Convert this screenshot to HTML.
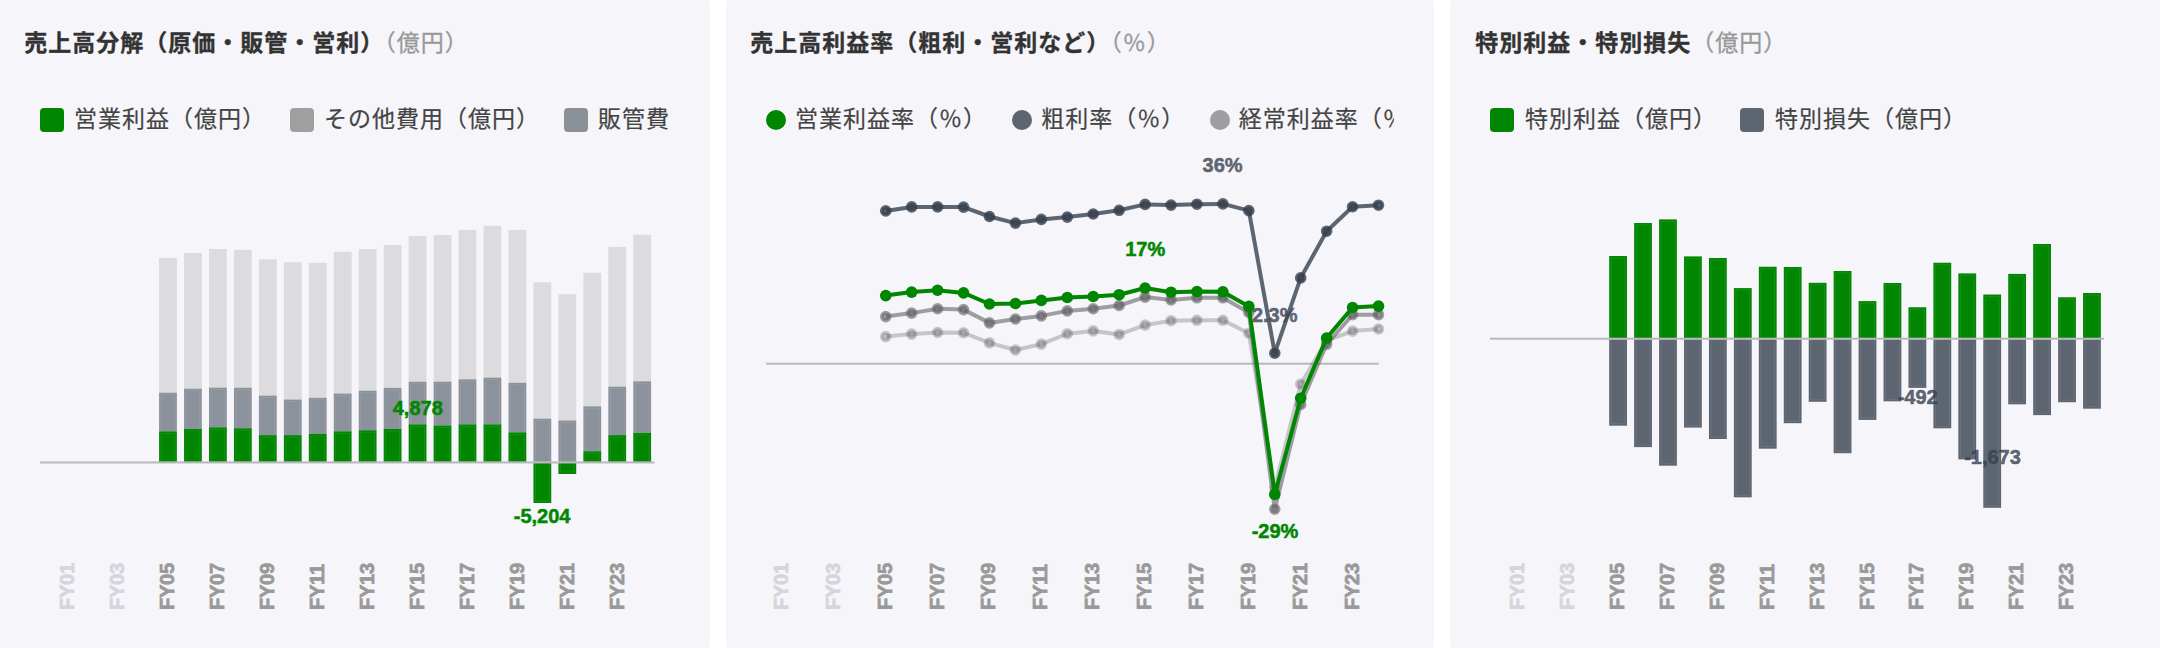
<!DOCTYPE html>
<html lang="ja">
<head>
<meta charset="utf-8">
<title>charts</title>
<style>
html,body{margin:0;padding:0;background:#fff;}
body{width:2160px;height:648px;position:relative;overflow:hidden;font-family:"Liberation Sans","Noto Sans CJK JP",sans-serif;}
.card{position:absolute;top:0;height:648px;width:710px;background:#f5f5fa;border-radius:4px;overflow:hidden;}
.title{position:absolute;left:24.3px;top:25px;transform:translateY(0.45px);font-size:23px;letter-spacing:1px;line-height:36px;font-weight:700;color:#333;white-space:nowrap;-webkit-text-stroke:0.35px #333;}
.title .u{font-weight:400;color:#999;-webkit-text-stroke:0.3px #999;}
.legend{position:absolute;left:40px;top:100px;width:630px;height:40px;overflow:hidden;white-space:nowrap;font-size:23px;letter-spacing:1px;line-height:38.6px;color:#444;-webkit-text-stroke:0.2px #444;}
.legend .it{position:absolute;top:0;height:40px;}
.legend .sw{display:inline-block;vertical-align:top;width:24px;height:24px;border-radius:4px;margin-top:8px;margin-right:10px;}
.legend .ci{display:inline-block;vertical-align:top;width:20px;height:20px;border-radius:50%;margin-top:10px;margin-right:9px;}
svg{position:absolute;left:0;top:0;}
.dl{font:700 20px "Liberation Sans",sans-serif;text-anchor:middle;stroke-width:0.5px;}
.xl{font:700 20px "Liberation Sans",sans-serif;text-anchor:start;stroke-width:0.7px;letter-spacing:-0.2px;}
</style>
</head>
<body>
<div class="card" style="left:0">
  <div class="title">売上高分解（原価・販管・営利）<span class="u">（億円）</span></div>
  <div class="legend"><span class="it" style="left:0"><span class="sw" style="background:#008600"></span>営業利益（億円）</span><span class="it" style="left:250px"><span class="sw" style="background:#9f9fa0"></span>その他費用（億円）</span><span class="it" style="left:524px"><span class="sw" style="background:#8a9199"></span>販管費（億円）</span></div>
</div>
<div class="card" style="left:726px;width:708px">
  <div class="title">売上高利益率（粗利・営利など）<span class="u">（％）</span></div>
  <div class="legend" style="width:628px"><span class="it" style="left:0"><span class="ci" style="background:#008600"></span>営業利益率（％）</span><span class="it" style="left:246.2px"><span class="ci" style="background:#5d6571"></span>粗利率（％）</span><span class="it" style="left:443.8px"><span class="ci" style="background:#9e9ea0"></span>経常利益率（％）</span><span class="it" style="left:691px"><span class="ci" style="background:#cfcfd2"></span>純利益率（％）</span></div>
</div>
<div class="card" style="left:1450px">
  <div class="title" style="left:25.3px">特別利益・特別損失<span class="u">（億円）</span></div>
  <div class="legend"><span class="it" style="left:0"><span class="sw" style="background:#008600;margin-right:11px"></span>特別利益（億円）</span><span class="it" style="left:250px"><span class="sw" style="background:#5d6571;margin-right:11px"></span>特別損失（億円）</span></div>
</div>
<svg width="2160" height="648" viewBox="0 0 2160 648">
<g><rect x="159.08" y="257.9" width="17.8" height="134.8" fill="#dcdcdf"/>
<rect x="159.08" y="392.7" width="17.8" height="38.6" fill="#8c929c"/>
<rect x="159.08" y="431.3" width="17.8" height="30.55" fill="#008600"/>
<path d="M161.08,461.45V433.3H174.88V461.45" fill="none" stroke="#fff" stroke-opacity="0.09" stroke-width="1"/>
<path d="M161.08,431.3V394.7H174.88V431.3" fill="none" stroke="#fff" stroke-opacity="0.09" stroke-width="1"/>
<rect x="184.04" y="252.96" width="17.8" height="135.74" fill="#dcdcdf"/>
<rect x="184.04" y="388.7" width="17.8" height="40.1" fill="#8c929c"/>
<rect x="184.04" y="428.8" width="17.8" height="33.05" fill="#008600"/>
<path d="M186.04,461.45V430.8H199.84V461.45" fill="none" stroke="#fff" stroke-opacity="0.09" stroke-width="1"/>
<path d="M186.04,428.8V390.7H199.84V428.8" fill="none" stroke="#fff" stroke-opacity="0.09" stroke-width="1"/>
<rect x="209" y="249" width="17.8" height="138.6" fill="#dcdcdf"/>
<rect x="209" y="387.6" width="17.8" height="39.65" fill="#8c929c"/>
<rect x="209" y="427.25" width="17.8" height="34.6" fill="#008600"/>
<path d="M211,461.45V429.25H224.8V461.45" fill="none" stroke="#fff" stroke-opacity="0.09" stroke-width="1"/>
<path d="M211,427.25V389.6H224.8V427.25" fill="none" stroke="#fff" stroke-opacity="0.09" stroke-width="1"/>
<rect x="233.96" y="249.9" width="17.8" height="137.8" fill="#dcdcdf"/>
<rect x="233.96" y="387.7" width="17.8" height="40.5" fill="#8c929c"/>
<rect x="233.96" y="428.2" width="17.8" height="33.65" fill="#008600"/>
<path d="M235.96,461.45V430.2H249.76V461.45" fill="none" stroke="#fff" stroke-opacity="0.09" stroke-width="1"/>
<path d="M235.96,428.2V389.7H249.76V428.2" fill="none" stroke="#fff" stroke-opacity="0.09" stroke-width="1"/>
<rect x="258.91" y="259.3" width="17.8" height="136.3" fill="#dcdcdf"/>
<rect x="258.91" y="395.6" width="17.8" height="39.5" fill="#8c929c"/>
<rect x="258.91" y="435.1" width="17.8" height="26.75" fill="#008600"/>
<path d="M260.91,461.45V437.1H274.71V461.45" fill="none" stroke="#fff" stroke-opacity="0.09" stroke-width="1"/>
<path d="M260.91,435.1V397.6H274.71V435.1" fill="none" stroke="#fff" stroke-opacity="0.09" stroke-width="1"/>
<rect x="283.87" y="262.2" width="17.8" height="137.3" fill="#dcdcdf"/>
<rect x="283.87" y="399.5" width="17.8" height="35.6" fill="#8c929c"/>
<rect x="283.87" y="435.1" width="17.8" height="26.75" fill="#008600"/>
<path d="M285.87,461.45V437.1H299.67V461.45" fill="none" stroke="#fff" stroke-opacity="0.09" stroke-width="1"/>
<path d="M285.87,435.1V401.5H299.67V435.1" fill="none" stroke="#fff" stroke-opacity="0.09" stroke-width="1"/>
<rect x="308.83" y="262.8" width="17.8" height="135" fill="#dcdcdf"/>
<rect x="308.83" y="397.8" width="17.8" height="36.2" fill="#8c929c"/>
<rect x="308.83" y="434" width="17.8" height="27.85" fill="#008600"/>
<path d="M310.83,461.45V436H324.63V461.45" fill="none" stroke="#fff" stroke-opacity="0.09" stroke-width="1"/>
<path d="M310.83,434V399.8H324.63V434" fill="none" stroke="#fff" stroke-opacity="0.09" stroke-width="1"/>
<rect x="333.79" y="251.85" width="17.8" height="141.65" fill="#dcdcdf"/>
<rect x="333.79" y="393.5" width="17.8" height="37.8" fill="#8c929c"/>
<rect x="333.79" y="431.3" width="17.8" height="30.55" fill="#008600"/>
<path d="M335.79,461.45V433.3H349.59V461.45" fill="none" stroke="#fff" stroke-opacity="0.09" stroke-width="1"/>
<path d="M335.79,431.3V395.5H349.59V431.3" fill="none" stroke="#fff" stroke-opacity="0.09" stroke-width="1"/>
<rect x="358.75" y="249" width="17.8" height="141.7" fill="#dcdcdf"/>
<rect x="358.75" y="390.7" width="17.8" height="39.5" fill="#8c929c"/>
<rect x="358.75" y="430.2" width="17.8" height="31.65" fill="#008600"/>
<path d="M360.75,461.45V432.2H374.55V461.45" fill="none" stroke="#fff" stroke-opacity="0.09" stroke-width="1"/>
<path d="M360.75,430.2V392.7H374.55V430.2" fill="none" stroke="#fff" stroke-opacity="0.09" stroke-width="1"/>
<rect x="383.7" y="245.06" width="17.8" height="142.84" fill="#dcdcdf"/>
<rect x="383.7" y="387.9" width="17.8" height="41.1" fill="#8c929c"/>
<rect x="383.7" y="429" width="17.8" height="32.85" fill="#008600"/>
<path d="M385.7,461.45V431H399.5V461.45" fill="none" stroke="#fff" stroke-opacity="0.09" stroke-width="1"/>
<path d="M385.7,429V389.9H399.5V429" fill="none" stroke="#fff" stroke-opacity="0.09" stroke-width="1"/>
<rect x="408.66" y="236.05" width="17.8" height="145.65" fill="#dcdcdf"/>
<rect x="408.66" y="381.7" width="17.8" height="42.6" fill="#8c929c"/>
<rect x="408.66" y="424.3" width="17.8" height="37.55" fill="#008600"/>
<path d="M410.66,461.45V426.3H424.46V461.45" fill="none" stroke="#fff" stroke-opacity="0.09" stroke-width="1"/>
<path d="M410.66,424.3V383.7H424.46V424.3" fill="none" stroke="#fff" stroke-opacity="0.09" stroke-width="1"/>
<rect x="433.62" y="235.06" width="17.8" height="146.64" fill="#dcdcdf"/>
<rect x="433.62" y="381.7" width="17.8" height="43.7" fill="#8c929c"/>
<rect x="433.62" y="425.4" width="17.8" height="36.45" fill="#008600"/>
<path d="M435.62,461.45V427.4H449.42V461.45" fill="none" stroke="#fff" stroke-opacity="0.09" stroke-width="1"/>
<path d="M435.62,425.4V383.7H449.42V425.4" fill="none" stroke="#fff" stroke-opacity="0.09" stroke-width="1"/>
<rect x="458.58" y="229.9" width="17.8" height="149.4" fill="#dcdcdf"/>
<rect x="458.58" y="379.3" width="17.8" height="45" fill="#8c929c"/>
<rect x="458.58" y="424.3" width="17.8" height="37.55" fill="#008600"/>
<path d="M460.58,461.45V426.3H474.38V461.45" fill="none" stroke="#fff" stroke-opacity="0.09" stroke-width="1"/>
<path d="M460.58,424.3V381.3H474.38V424.3" fill="none" stroke="#fff" stroke-opacity="0.09" stroke-width="1"/>
<rect x="483.54" y="225.8" width="17.8" height="151.8" fill="#dcdcdf"/>
<rect x="483.54" y="377.6" width="17.8" height="46.7" fill="#8c929c"/>
<rect x="483.54" y="424.3" width="17.8" height="37.55" fill="#008600"/>
<path d="M485.54,461.45V426.3H499.34V461.45" fill="none" stroke="#fff" stroke-opacity="0.09" stroke-width="1"/>
<path d="M485.54,424.3V379.6H499.34V424.3" fill="none" stroke="#fff" stroke-opacity="0.09" stroke-width="1"/>
<rect x="508.49" y="229.9" width="17.8" height="152.9" fill="#dcdcdf"/>
<rect x="508.49" y="382.8" width="17.8" height="49.5" fill="#8c929c"/>
<rect x="508.49" y="432.3" width="17.8" height="29.55" fill="#008600"/>
<path d="M510.49,461.45V434.3H524.29V461.45" fill="none" stroke="#fff" stroke-opacity="0.09" stroke-width="1"/>
<path d="M510.49,432.3V384.8H524.29V432.3" fill="none" stroke="#fff" stroke-opacity="0.09" stroke-width="1"/>
<rect x="533.45" y="282.3" width="17.8" height="136.3" fill="#dcdcdf"/>
<rect x="533.45" y="418.6" width="17.8" height="43.25" fill="#8c929c"/>
<rect x="533.45" y="463.05" width="17.8" height="39.95" fill="#008600"/>
<path d="M535.45,463.45V501H549.25V463.45" fill="none" stroke="#fff" stroke-opacity="0.09" stroke-width="1"/>
<path d="M535.45,461.45V420.6H549.25V461.45" fill="none" stroke="#fff" stroke-opacity="0.09" stroke-width="1"/>
<rect x="558.41" y="294.2" width="17.8" height="126.3" fill="#dcdcdf"/>
<rect x="558.41" y="420.5" width="17.8" height="41.35" fill="#8c929c"/>
<rect x="558.41" y="463.05" width="17.8" height="10.95" fill="#008600"/>
<path d="M560.41,463.45V472H574.21V463.45" fill="none" stroke="#fff" stroke-opacity="0.09" stroke-width="1"/>
<path d="M560.41,461.45V422.5H574.21V461.45" fill="none" stroke="#fff" stroke-opacity="0.09" stroke-width="1"/>
<rect x="583.37" y="272.8" width="17.8" height="133.5" fill="#dcdcdf"/>
<rect x="583.37" y="406.3" width="17.8" height="44.9" fill="#8c929c"/>
<rect x="583.37" y="451.2" width="17.8" height="10.65" fill="#008600"/>
<path d="M585.37,461.45V453.2H599.17V461.45" fill="none" stroke="#fff" stroke-opacity="0.09" stroke-width="1"/>
<path d="M585.37,451.2V408.3H599.17V451.2" fill="none" stroke="#fff" stroke-opacity="0.09" stroke-width="1"/>
<rect x="608.32" y="246.9" width="17.8" height="139.8" fill="#dcdcdf"/>
<rect x="608.32" y="386.7" width="17.8" height="48.4" fill="#8c929c"/>
<rect x="608.32" y="435.1" width="17.8" height="26.75" fill="#008600"/>
<path d="M610.32,461.45V437.1H624.12V461.45" fill="none" stroke="#fff" stroke-opacity="0.09" stroke-width="1"/>
<path d="M610.32,435.1V388.7H624.12V435.1" fill="none" stroke="#fff" stroke-opacity="0.09" stroke-width="1"/>
<rect x="633.28" y="234.8" width="17.8" height="146.5" fill="#dcdcdf"/>
<rect x="633.28" y="381.3" width="17.8" height="51.5" fill="#8c929c"/>
<rect x="633.28" y="432.8" width="17.8" height="29.05" fill="#008600"/>
<path d="M635.28,461.45V434.8H649.08V461.45" fill="none" stroke="#fff" stroke-opacity="0.09" stroke-width="1"/>
<path d="M635.28,432.8V383.3H649.08V432.8" fill="none" stroke="#fff" stroke-opacity="0.09" stroke-width="1"/>
<rect x="40" y="461.45" width="614.6" height="2" fill="#b9b9bb"/>
<text class="dl" x="417.75" y="414.75" fill="#008600" stroke="#008600">4,878</text>
<text class="dl" x="542.1" y="523.2" fill="#008600" stroke="#008600">-5,204</text>
<text class="xl" transform="translate(74.45,610.1) rotate(-90)" fill="#d5d5dd" stroke="#d5d5dd">FY01</text>
<text class="xl" transform="translate(124.36,610.1) rotate(-90)" fill="#d5d5dd" stroke="#d5d5dd">FY03</text>
<text class="xl" transform="translate(174.28,610.1) rotate(-90)" fill="#999999" stroke="#999999">FY05</text>
<text class="xl" transform="translate(224.2,610.1) rotate(-90)" fill="#999999" stroke="#999999">FY07</text>
<text class="xl" transform="translate(274.11,610.1) rotate(-90)" fill="#999999" stroke="#999999">FY09</text>
<text class="xl" transform="translate(324.03,610.1) rotate(-90)" fill="#999999" stroke="#999999">FY11</text>
<text class="xl" transform="translate(373.94,610.1) rotate(-90)" fill="#999999" stroke="#999999">FY13</text>
<text class="xl" transform="translate(423.86,610.1) rotate(-90)" fill="#999999" stroke="#999999">FY15</text>
<text class="xl" transform="translate(473.78,610.1) rotate(-90)" fill="#999999" stroke="#999999">FY17</text>
<text class="xl" transform="translate(523.69,610.1) rotate(-90)" fill="#999999" stroke="#999999">FY19</text>
<text class="xl" transform="translate(573.61,610.1) rotate(-90)" fill="#999999" stroke="#999999">FY21</text>
<text class="xl" transform="translate(623.52,610.1) rotate(-90)" fill="#999999" stroke="#999999">FY23</text></g>
<g><rect x="766" y="362.7" width="612.8" height="2" fill="#b9b9bb"/>
<text class="dl" x="1274.7" y="321.7" fill="#5d6571" stroke="#5d6571">2.3%</text>
<polyline points="885.74,336.6 911.67,334.1 937.61,332.5 963.54,332.75 989.48,342.9 1015.41,350 1041.35,344.1 1067.28,333.75 1093.22,330.9 1119.15,334.45 1145.09,325.1 1171.03,320.7 1196.96,320.3 1222.89,320.3 1248.83,333.2 1274.76,488 1300.7,384.2 1326.63,340.5 1352.57,331.1 1378.51,329" fill="none" stroke="rgba(100,100,104,0.32)" stroke-width="4" stroke-linejoin="round"/>
<circle cx="885.74" cy="336.6" r="3.9" fill="rgba(100,100,104,0.32)" stroke="rgba(100,100,104,0.32)" stroke-width="3.8"/>
<circle cx="911.67" cy="334.1" r="3.9" fill="rgba(100,100,104,0.32)" stroke="rgba(100,100,104,0.32)" stroke-width="3.8"/>
<circle cx="937.61" cy="332.5" r="3.9" fill="rgba(100,100,104,0.32)" stroke="rgba(100,100,104,0.32)" stroke-width="3.8"/>
<circle cx="963.54" cy="332.75" r="3.9" fill="rgba(100,100,104,0.32)" stroke="rgba(100,100,104,0.32)" stroke-width="3.8"/>
<circle cx="989.48" cy="342.9" r="3.9" fill="rgba(100,100,104,0.32)" stroke="rgba(100,100,104,0.32)" stroke-width="3.8"/>
<circle cx="1015.41" cy="350" r="3.9" fill="rgba(100,100,104,0.32)" stroke="rgba(100,100,104,0.32)" stroke-width="3.8"/>
<circle cx="1041.35" cy="344.1" r="3.9" fill="rgba(100,100,104,0.32)" stroke="rgba(100,100,104,0.32)" stroke-width="3.8"/>
<circle cx="1067.28" cy="333.75" r="3.9" fill="rgba(100,100,104,0.32)" stroke="rgba(100,100,104,0.32)" stroke-width="3.8"/>
<circle cx="1093.22" cy="330.9" r="3.9" fill="rgba(100,100,104,0.32)" stroke="rgba(100,100,104,0.32)" stroke-width="3.8"/>
<circle cx="1119.15" cy="334.45" r="3.9" fill="rgba(100,100,104,0.32)" stroke="rgba(100,100,104,0.32)" stroke-width="3.8"/>
<circle cx="1145.09" cy="325.1" r="3.9" fill="rgba(100,100,104,0.32)" stroke="rgba(100,100,104,0.32)" stroke-width="3.8"/>
<circle cx="1171.03" cy="320.7" r="3.9" fill="rgba(100,100,104,0.32)" stroke="rgba(100,100,104,0.32)" stroke-width="3.8"/>
<circle cx="1196.96" cy="320.3" r="3.9" fill="rgba(100,100,104,0.32)" stroke="rgba(100,100,104,0.32)" stroke-width="3.8"/>
<circle cx="1222.89" cy="320.3" r="3.9" fill="rgba(100,100,104,0.32)" stroke="rgba(100,100,104,0.32)" stroke-width="3.8"/>
<circle cx="1248.83" cy="333.2" r="3.9" fill="rgba(100,100,104,0.32)" stroke="rgba(100,100,104,0.32)" stroke-width="3.8"/>
<circle cx="1274.76" cy="488" r="3.9" fill="rgba(100,100,104,0.32)" stroke="rgba(100,100,104,0.32)" stroke-width="3.8"/>
<circle cx="1300.7" cy="384.2" r="3.9" fill="rgba(100,100,104,0.32)" stroke="rgba(100,100,104,0.32)" stroke-width="3.8"/>
<circle cx="1326.63" cy="340.5" r="3.9" fill="rgba(100,100,104,0.32)" stroke="rgba(100,100,104,0.32)" stroke-width="3.8"/>
<circle cx="1352.57" cy="331.1" r="3.9" fill="rgba(100,100,104,0.32)" stroke="rgba(100,100,104,0.32)" stroke-width="3.8"/>
<circle cx="1378.51" cy="329" r="3.9" fill="rgba(100,100,104,0.32)" stroke="rgba(100,100,104,0.32)" stroke-width="3.8"/>
<polyline points="885.74,316.6 911.67,313.1 937.61,308.75 963.54,309.6 989.48,322.9 1015.41,319 1041.35,315.9 1067.28,310.9 1093.22,308.75 1119.15,305.5 1145.09,297.1 1171.03,299.9 1196.96,297.8 1222.89,297.8 1248.83,312.4 1274.76,509.2 1300.7,404.5 1326.63,344.3 1352.57,314.7 1378.51,314.7" fill="none" stroke="rgba(100,100,104,0.6)" stroke-width="4" stroke-linejoin="round"/>
<circle cx="885.74" cy="316.6" r="3.9" fill="rgba(100,100,104,0.6)" stroke="rgba(100,100,104,0.6)" stroke-width="3.8"/>
<circle cx="911.67" cy="313.1" r="3.9" fill="rgba(100,100,104,0.6)" stroke="rgba(100,100,104,0.6)" stroke-width="3.8"/>
<circle cx="937.61" cy="308.75" r="3.9" fill="rgba(100,100,104,0.6)" stroke="rgba(100,100,104,0.6)" stroke-width="3.8"/>
<circle cx="963.54" cy="309.6" r="3.9" fill="rgba(100,100,104,0.6)" stroke="rgba(100,100,104,0.6)" stroke-width="3.8"/>
<circle cx="989.48" cy="322.9" r="3.9" fill="rgba(100,100,104,0.6)" stroke="rgba(100,100,104,0.6)" stroke-width="3.8"/>
<circle cx="1015.41" cy="319" r="3.9" fill="rgba(100,100,104,0.6)" stroke="rgba(100,100,104,0.6)" stroke-width="3.8"/>
<circle cx="1041.35" cy="315.9" r="3.9" fill="rgba(100,100,104,0.6)" stroke="rgba(100,100,104,0.6)" stroke-width="3.8"/>
<circle cx="1067.28" cy="310.9" r="3.9" fill="rgba(100,100,104,0.6)" stroke="rgba(100,100,104,0.6)" stroke-width="3.8"/>
<circle cx="1093.22" cy="308.75" r="3.9" fill="rgba(100,100,104,0.6)" stroke="rgba(100,100,104,0.6)" stroke-width="3.8"/>
<circle cx="1119.15" cy="305.5" r="3.9" fill="rgba(100,100,104,0.6)" stroke="rgba(100,100,104,0.6)" stroke-width="3.8"/>
<circle cx="1145.09" cy="297.1" r="3.9" fill="rgba(100,100,104,0.6)" stroke="rgba(100,100,104,0.6)" stroke-width="3.8"/>
<circle cx="1171.03" cy="299.9" r="3.9" fill="rgba(100,100,104,0.6)" stroke="rgba(100,100,104,0.6)" stroke-width="3.8"/>
<circle cx="1196.96" cy="297.8" r="3.9" fill="rgba(100,100,104,0.6)" stroke="rgba(100,100,104,0.6)" stroke-width="3.8"/>
<circle cx="1222.89" cy="297.8" r="3.9" fill="rgba(100,100,104,0.6)" stroke="rgba(100,100,104,0.6)" stroke-width="3.8"/>
<circle cx="1248.83" cy="312.4" r="3.9" fill="rgba(100,100,104,0.6)" stroke="rgba(100,100,104,0.6)" stroke-width="3.8"/>
<circle cx="1274.76" cy="509.2" r="3.9" fill="rgba(100,100,104,0.6)" stroke="rgba(100,100,104,0.6)" stroke-width="3.8"/>
<circle cx="1300.7" cy="404.5" r="3.9" fill="rgba(100,100,104,0.6)" stroke="rgba(100,100,104,0.6)" stroke-width="3.8"/>
<circle cx="1326.63" cy="344.3" r="3.9" fill="rgba(100,100,104,0.6)" stroke="rgba(100,100,104,0.6)" stroke-width="3.8"/>
<circle cx="1352.57" cy="314.7" r="3.9" fill="rgba(100,100,104,0.6)" stroke="rgba(100,100,104,0.6)" stroke-width="3.8"/>
<circle cx="1378.51" cy="314.7" r="3.9" fill="rgba(100,100,104,0.6)" stroke="rgba(100,100,104,0.6)" stroke-width="3.8"/>
<polyline points="885.74,210.9 911.67,206.9 937.61,206.9 963.54,207.1 989.48,216.5 1015.41,223.1 1041.35,219.4 1067.28,217.1 1093.22,214 1119.15,210.3 1145.09,204.4 1171.03,205.1 1196.96,204.2 1222.89,203.9 1248.83,210.6 1274.76,353.2 1300.7,277.9 1326.63,231.2 1352.57,206.75 1378.51,205.2" fill="none" stroke="rgba(55,65,79,0.8)" stroke-width="4" stroke-linejoin="round"/>
<circle cx="885.74" cy="210.9" r="3.9" fill="rgba(55,65,79,0.8)" stroke="rgba(55,65,79,0.8)" stroke-width="3.8"/>
<circle cx="911.67" cy="206.9" r="3.9" fill="rgba(55,65,79,0.8)" stroke="rgba(55,65,79,0.8)" stroke-width="3.8"/>
<circle cx="937.61" cy="206.9" r="3.9" fill="rgba(55,65,79,0.8)" stroke="rgba(55,65,79,0.8)" stroke-width="3.8"/>
<circle cx="963.54" cy="207.1" r="3.9" fill="rgba(55,65,79,0.8)" stroke="rgba(55,65,79,0.8)" stroke-width="3.8"/>
<circle cx="989.48" cy="216.5" r="3.9" fill="rgba(55,65,79,0.8)" stroke="rgba(55,65,79,0.8)" stroke-width="3.8"/>
<circle cx="1015.41" cy="223.1" r="3.9" fill="rgba(55,65,79,0.8)" stroke="rgba(55,65,79,0.8)" stroke-width="3.8"/>
<circle cx="1041.35" cy="219.4" r="3.9" fill="rgba(55,65,79,0.8)" stroke="rgba(55,65,79,0.8)" stroke-width="3.8"/>
<circle cx="1067.28" cy="217.1" r="3.9" fill="rgba(55,65,79,0.8)" stroke="rgba(55,65,79,0.8)" stroke-width="3.8"/>
<circle cx="1093.22" cy="214" r="3.9" fill="rgba(55,65,79,0.8)" stroke="rgba(55,65,79,0.8)" stroke-width="3.8"/>
<circle cx="1119.15" cy="210.3" r="3.9" fill="rgba(55,65,79,0.8)" stroke="rgba(55,65,79,0.8)" stroke-width="3.8"/>
<circle cx="1145.09" cy="204.4" r="3.9" fill="rgba(55,65,79,0.8)" stroke="rgba(55,65,79,0.8)" stroke-width="3.8"/>
<circle cx="1171.03" cy="205.1" r="3.9" fill="rgba(55,65,79,0.8)" stroke="rgba(55,65,79,0.8)" stroke-width="3.8"/>
<circle cx="1196.96" cy="204.2" r="3.9" fill="rgba(55,65,79,0.8)" stroke="rgba(55,65,79,0.8)" stroke-width="3.8"/>
<circle cx="1222.89" cy="203.9" r="3.9" fill="rgba(55,65,79,0.8)" stroke="rgba(55,65,79,0.8)" stroke-width="3.8"/>
<circle cx="1248.83" cy="210.6" r="3.9" fill="rgba(55,65,79,0.8)" stroke="rgba(55,65,79,0.8)" stroke-width="3.8"/>
<circle cx="1274.76" cy="353.2" r="3.9" fill="rgba(55,65,79,0.8)" stroke="rgba(55,65,79,0.8)" stroke-width="3.8"/>
<circle cx="1300.7" cy="277.9" r="3.9" fill="rgba(55,65,79,0.8)" stroke="rgba(55,65,79,0.8)" stroke-width="3.8"/>
<circle cx="1326.63" cy="231.2" r="3.9" fill="rgba(55,65,79,0.8)" stroke="rgba(55,65,79,0.8)" stroke-width="3.8"/>
<circle cx="1352.57" cy="206.75" r="3.9" fill="rgba(55,65,79,0.8)" stroke="rgba(55,65,79,0.8)" stroke-width="3.8"/>
<circle cx="1378.51" cy="205.2" r="3.9" fill="rgba(55,65,79,0.8)" stroke="rgba(55,65,79,0.8)" stroke-width="3.8"/>
<polyline points="885.74,295.6 911.67,292.1 937.61,290.25 963.54,292.9 989.48,304 1015.41,303.5 1041.35,300.4 1067.28,297.5 1093.22,296.5 1119.15,294.7 1145.09,288.05 1171.03,292.2 1196.96,291.5 1222.89,291.8 1248.83,306.4 1274.76,494.4 1300.7,398.2 1326.63,338.05 1352.57,307.5 1378.51,306.1" fill="none" stroke="#008600" stroke-width="4" stroke-linejoin="round"/>
<circle cx="885.74" cy="295.6" r="5.8" fill="#008600"/>
<circle cx="911.67" cy="292.1" r="5.8" fill="#008600"/>
<circle cx="937.61" cy="290.25" r="5.8" fill="#008600"/>
<circle cx="963.54" cy="292.9" r="5.8" fill="#008600"/>
<circle cx="989.48" cy="304" r="5.8" fill="#008600"/>
<circle cx="1015.41" cy="303.5" r="5.8" fill="#008600"/>
<circle cx="1041.35" cy="300.4" r="5.8" fill="#008600"/>
<circle cx="1067.28" cy="297.5" r="5.8" fill="#008600"/>
<circle cx="1093.22" cy="296.5" r="5.8" fill="#008600"/>
<circle cx="1119.15" cy="294.7" r="5.8" fill="#008600"/>
<circle cx="1145.09" cy="288.05" r="5.8" fill="#008600"/>
<circle cx="1171.03" cy="292.2" r="5.8" fill="#008600"/>
<circle cx="1196.96" cy="291.5" r="5.8" fill="#008600"/>
<circle cx="1222.89" cy="291.8" r="5.8" fill="#008600"/>
<circle cx="1248.83" cy="306.4" r="5.8" fill="#008600"/>
<circle cx="1274.76" cy="494.4" r="5.8" fill="#008600"/>
<circle cx="1300.7" cy="398.2" r="5.8" fill="#008600"/>
<circle cx="1326.63" cy="338.05" r="5.8" fill="#008600"/>
<circle cx="1352.57" cy="307.5" r="5.8" fill="#008600"/>
<circle cx="1378.51" cy="306.1" r="5.8" fill="#008600"/>
<text class="dl" x="1222.6" y="172.2" fill="#5d6571" stroke="#5d6571">36%</text>
<text class="dl" x="1145.2" y="255.9" fill="#008600" stroke="#008600">17%</text>
<text class="dl" x="1275" y="538" fill="#008600" stroke="#008600">-29%</text>
<text class="xl" transform="translate(788,610.1) rotate(-90)" fill="#d5d5dd" stroke="#d5d5dd">FY01</text>
<text class="xl" transform="translate(839.87,610.1) rotate(-90)" fill="#d5d5dd" stroke="#d5d5dd">FY03</text>
<text class="xl" transform="translate(891.74,610.1) rotate(-90)" fill="#999999" stroke="#999999">FY05</text>
<text class="xl" transform="translate(943.61,610.1) rotate(-90)" fill="#999999" stroke="#999999">FY07</text>
<text class="xl" transform="translate(995.48,610.1) rotate(-90)" fill="#999999" stroke="#999999">FY09</text>
<text class="xl" transform="translate(1047.35,610.1) rotate(-90)" fill="#999999" stroke="#999999">FY11</text>
<text class="xl" transform="translate(1099.22,610.1) rotate(-90)" fill="#999999" stroke="#999999">FY13</text>
<text class="xl" transform="translate(1151.09,610.1) rotate(-90)" fill="#999999" stroke="#999999">FY15</text>
<text class="xl" transform="translate(1202.96,610.1) rotate(-90)" fill="#999999" stroke="#999999">FY17</text>
<text class="xl" transform="translate(1254.83,610.1) rotate(-90)" fill="#999999" stroke="#999999">FY19</text>
<text class="xl" transform="translate(1306.7,610.1) rotate(-90)" fill="#999999" stroke="#999999">FY21</text>
<text class="xl" transform="translate(1358.57,610.1) rotate(-90)" fill="#999999" stroke="#999999">FY23</text></g>
<g><rect x="1609.2" y="256" width="17.8" height="82.1" fill="#008600"/>
<path d="M1611.2,337.7V258H1625V337.7" fill="none" stroke="#fff" stroke-opacity="0.09" stroke-width="1"/>
<rect x="1609.2" y="339.3" width="17.8" height="86.4" fill="#5d6571"/>
<path d="M1611.2,339.7V423.7H1625V339.7" fill="none" stroke="#fff" stroke-opacity="0.09" stroke-width="1"/>
<rect x="1634.14" y="223" width="17.8" height="115.1" fill="#008600"/>
<path d="M1636.14,337.7V225H1649.94V337.7" fill="none" stroke="#fff" stroke-opacity="0.09" stroke-width="1"/>
<rect x="1634.14" y="339.3" width="17.8" height="107.8" fill="#5d6571"/>
<path d="M1636.14,339.7V445.1H1649.94V339.7" fill="none" stroke="#fff" stroke-opacity="0.09" stroke-width="1"/>
<rect x="1659.08" y="219.4" width="17.8" height="118.7" fill="#008600"/>
<path d="M1661.08,337.7V221.4H1674.88V337.7" fill="none" stroke="#fff" stroke-opacity="0.09" stroke-width="1"/>
<rect x="1659.08" y="339.3" width="17.8" height="126.4" fill="#5d6571"/>
<path d="M1661.08,339.7V463.7H1674.88V339.7" fill="none" stroke="#fff" stroke-opacity="0.09" stroke-width="1"/>
<rect x="1684.02" y="256.4" width="17.8" height="81.7" fill="#008600"/>
<path d="M1686.02,337.7V258.4H1699.82V337.7" fill="none" stroke="#fff" stroke-opacity="0.09" stroke-width="1"/>
<rect x="1684.02" y="339.3" width="17.8" height="88.3" fill="#5d6571"/>
<path d="M1686.02,339.7V425.6H1699.82V339.7" fill="none" stroke="#fff" stroke-opacity="0.09" stroke-width="1"/>
<rect x="1708.96" y="258" width="17.8" height="80.1" fill="#008600"/>
<path d="M1710.96,337.7V260H1724.76V337.7" fill="none" stroke="#fff" stroke-opacity="0.09" stroke-width="1"/>
<rect x="1708.96" y="339.3" width="17.8" height="99.7" fill="#5d6571"/>
<path d="M1710.96,339.7V437H1724.76V339.7" fill="none" stroke="#fff" stroke-opacity="0.09" stroke-width="1"/>
<rect x="1733.9" y="288.1" width="17.8" height="50" fill="#008600"/>
<path d="M1735.9,337.7V290.1H1749.7V337.7" fill="none" stroke="#fff" stroke-opacity="0.09" stroke-width="1"/>
<rect x="1733.9" y="339.3" width="17.8" height="158" fill="#5d6571"/>
<path d="M1735.9,339.7V495.3H1749.7V339.7" fill="none" stroke="#fff" stroke-opacity="0.09" stroke-width="1"/>
<rect x="1758.84" y="266.75" width="17.8" height="71.35" fill="#008600"/>
<path d="M1760.84,337.7V268.75H1774.64V337.7" fill="none" stroke="#fff" stroke-opacity="0.09" stroke-width="1"/>
<rect x="1758.84" y="339.3" width="17.8" height="109.4" fill="#5d6571"/>
<path d="M1760.84,339.7V446.7H1774.64V339.7" fill="none" stroke="#fff" stroke-opacity="0.09" stroke-width="1"/>
<rect x="1783.78" y="267" width="17.8" height="71.1" fill="#008600"/>
<path d="M1785.78,337.7V269H1799.58V337.7" fill="none" stroke="#fff" stroke-opacity="0.09" stroke-width="1"/>
<rect x="1783.78" y="339.3" width="17.8" height="83.9" fill="#5d6571"/>
<path d="M1785.78,339.7V421.2H1799.58V339.7" fill="none" stroke="#fff" stroke-opacity="0.09" stroke-width="1"/>
<rect x="1808.72" y="282.8" width="17.8" height="55.3" fill="#008600"/>
<path d="M1810.72,337.7V284.8H1824.52V337.7" fill="none" stroke="#fff" stroke-opacity="0.09" stroke-width="1"/>
<rect x="1808.72" y="339.3" width="17.8" height="62.5" fill="#5d6571"/>
<path d="M1810.72,339.7V399.8H1824.52V339.7" fill="none" stroke="#fff" stroke-opacity="0.09" stroke-width="1"/>
<rect x="1833.66" y="271" width="17.8" height="67.1" fill="#008600"/>
<path d="M1835.66,337.7V273H1849.46V337.7" fill="none" stroke="#fff" stroke-opacity="0.09" stroke-width="1"/>
<rect x="1833.66" y="339.3" width="17.8" height="113.9" fill="#5d6571"/>
<path d="M1835.66,339.7V451.2H1849.46V339.7" fill="none" stroke="#fff" stroke-opacity="0.09" stroke-width="1"/>
<rect x="1858.6" y="301.1" width="17.8" height="37" fill="#008600"/>
<path d="M1860.6,337.7V303.1H1874.4V337.7" fill="none" stroke="#fff" stroke-opacity="0.09" stroke-width="1"/>
<rect x="1858.6" y="339.3" width="17.8" height="80.6" fill="#5d6571"/>
<path d="M1860.6,339.7V417.9H1874.4V339.7" fill="none" stroke="#fff" stroke-opacity="0.09" stroke-width="1"/>
<rect x="1883.54" y="283" width="17.8" height="55.1" fill="#008600"/>
<path d="M1885.54,337.7V285H1899.34V337.7" fill="none" stroke="#fff" stroke-opacity="0.09" stroke-width="1"/>
<rect x="1883.54" y="339.3" width="17.8" height="62" fill="#5d6571"/>
<path d="M1885.54,339.7V399.3H1899.34V339.7" fill="none" stroke="#fff" stroke-opacity="0.09" stroke-width="1"/>
<rect x="1908.48" y="307.25" width="17.8" height="30.85" fill="#008600"/>
<path d="M1910.48,337.7V309.25H1924.28V337.7" fill="none" stroke="#fff" stroke-opacity="0.09" stroke-width="1"/>
<rect x="1908.48" y="339.3" width="17.8" height="48.6" fill="#5d6571"/>
<path d="M1910.48,339.7V385.9H1924.28V339.7" fill="none" stroke="#fff" stroke-opacity="0.09" stroke-width="1"/>
<rect x="1933.42" y="262.75" width="17.8" height="75.35" fill="#008600"/>
<path d="M1935.42,337.7V264.75H1949.22V337.7" fill="none" stroke="#fff" stroke-opacity="0.09" stroke-width="1"/>
<rect x="1933.42" y="339.3" width="17.8" height="89" fill="#5d6571"/>
<path d="M1935.42,339.7V426.3H1949.22V339.7" fill="none" stroke="#fff" stroke-opacity="0.09" stroke-width="1"/>
<rect x="1958.36" y="273.4" width="17.8" height="64.7" fill="#008600"/>
<path d="M1960.36,337.7V275.4H1974.16V337.7" fill="none" stroke="#fff" stroke-opacity="0.09" stroke-width="1"/>
<rect x="1958.36" y="339.3" width="17.8" height="120.1" fill="#5d6571"/>
<path d="M1960.36,339.7V457.4H1974.16V339.7" fill="none" stroke="#fff" stroke-opacity="0.09" stroke-width="1"/>
<rect x="1983.3" y="294.5" width="17.8" height="43.6" fill="#008600"/>
<path d="M1985.3,337.7V296.5H1999.1V337.7" fill="none" stroke="#fff" stroke-opacity="0.09" stroke-width="1"/>
<rect x="1983.3" y="339.3" width="17.8" height="168.5" fill="#5d6571"/>
<path d="M1985.3,339.7V505.8H1999.1V339.7" fill="none" stroke="#fff" stroke-opacity="0.09" stroke-width="1"/>
<rect x="2008.24" y="273.9" width="17.8" height="64.2" fill="#008600"/>
<path d="M2010.24,337.7V275.9H2024.04V337.7" fill="none" stroke="#fff" stroke-opacity="0.09" stroke-width="1"/>
<rect x="2008.24" y="339.3" width="17.8" height="65" fill="#5d6571"/>
<path d="M2010.24,339.7V402.3H2024.04V339.7" fill="none" stroke="#fff" stroke-opacity="0.09" stroke-width="1"/>
<rect x="2033.18" y="244" width="17.8" height="94.1" fill="#008600"/>
<path d="M2035.18,337.7V246H2048.98V337.7" fill="none" stroke="#fff" stroke-opacity="0.09" stroke-width="1"/>
<rect x="2033.18" y="339.3" width="17.8" height="75.8" fill="#5d6571"/>
<path d="M2035.18,339.7V413.1H2048.98V339.7" fill="none" stroke="#fff" stroke-opacity="0.09" stroke-width="1"/>
<rect x="2058.12" y="297.25" width="17.8" height="40.85" fill="#008600"/>
<path d="M2060.12,337.7V299.25H2073.92V337.7" fill="none" stroke="#fff" stroke-opacity="0.09" stroke-width="1"/>
<rect x="2058.12" y="339.3" width="17.8" height="62.9" fill="#5d6571"/>
<path d="M2060.12,339.7V400.2H2073.92V339.7" fill="none" stroke="#fff" stroke-opacity="0.09" stroke-width="1"/>
<rect x="2083.06" y="293" width="17.8" height="45.1" fill="#008600"/>
<path d="M2085.06,337.7V295H2098.86V337.7" fill="none" stroke="#fff" stroke-opacity="0.09" stroke-width="1"/>
<rect x="2083.06" y="339.3" width="17.8" height="69.4" fill="#5d6571"/>
<path d="M2085.06,339.7V406.7H2098.86V339.7" fill="none" stroke="#fff" stroke-opacity="0.09" stroke-width="1"/>
<rect x="1490" y="337.7" width="614" height="2" fill="#b9b9bb"/>
<text class="dl" x="1917.7" y="404.2" fill="#374151" fill-opacity="0.8" stroke="#374151" stroke-opacity="0.8">-492</text>
<text class="dl" x="1992.5" y="464.1" fill="#374151" fill-opacity="0.8" stroke="#374151" stroke-opacity="0.8">-1,673</text>
<text class="xl" transform="translate(1524.34,610.1) rotate(-90)" fill="#d5d5dd" stroke="#d5d5dd">FY01</text>
<text class="xl" transform="translate(1574.22,610.1) rotate(-90)" fill="#d5d5dd" stroke="#d5d5dd">FY03</text>
<text class="xl" transform="translate(1624.1,610.1) rotate(-90)" fill="#999999" stroke="#999999">FY05</text>
<text class="xl" transform="translate(1673.98,610.1) rotate(-90)" fill="#999999" stroke="#999999">FY07</text>
<text class="xl" transform="translate(1723.86,610.1) rotate(-90)" fill="#999999" stroke="#999999">FY09</text>
<text class="xl" transform="translate(1773.74,610.1) rotate(-90)" fill="#999999" stroke="#999999">FY11</text>
<text class="xl" transform="translate(1823.62,610.1) rotate(-90)" fill="#999999" stroke="#999999">FY13</text>
<text class="xl" transform="translate(1873.5,610.1) rotate(-90)" fill="#999999" stroke="#999999">FY15</text>
<text class="xl" transform="translate(1923.38,610.1) rotate(-90)" fill="#999999" stroke="#999999">FY17</text>
<text class="xl" transform="translate(1973.26,610.1) rotate(-90)" fill="#999999" stroke="#999999">FY19</text>
<text class="xl" transform="translate(2023.14,610.1) rotate(-90)" fill="#999999" stroke="#999999">FY21</text>
<text class="xl" transform="translate(2073.02,610.1) rotate(-90)" fill="#999999" stroke="#999999">FY23</text></g>
</svg>
</body>
</html>
